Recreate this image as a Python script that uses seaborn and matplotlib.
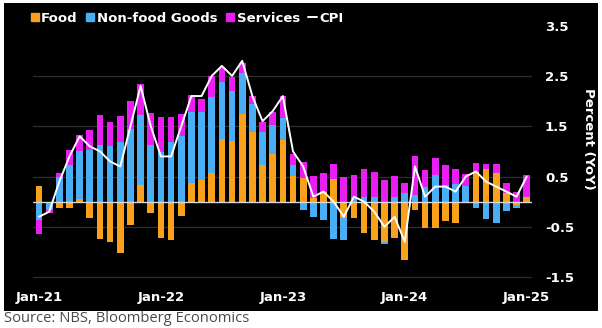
import numpy as np
import pandas as pd
import matplotlib
matplotlib.use("Agg")
import matplotlib.pyplot as plt
import seaborn as sns
from matplotlib.lines import Line2D
from matplotlib.patches import Rectangle

# Contributions to China CPI (percentage points, YoY), Jan-21 .. Jan-25
months = pd.date_range("2021-01-01", "2025-01-01", freq="MS")

food = [0.32, -0.03, -0.13, -0.13, 0.05, -0.33, -0.74, -0.80, -1.03, -0.46, 0.33, -0.23,
        -0.73, -0.76, -0.28, 0.38, 0.44, 0.58, 1.25, 1.21, 1.74, 1.38, 0.72, 0.95,
        1.23, 0.52, 0.48, 0.08, 0.20, 0.46, -0.32, -0.33, -0.62, -0.77, -0.80, -0.73,
        -1.15, -0.17, -0.53, -0.53, -0.38, -0.42, 0.00, 0.60, 0.65, 0.58, 0.17, -0.07,
        0.09]
nonfood = [-0.36, -0.14, 0.50, 0.73, 0.95, 1.03, 1.13, 1.10, 1.19, 1.44, 1.39, 1.13,
           0.99, 1.19, 1.30, 1.41, 1.34, 1.51, 1.13, 0.99, 0.81, 0.57, 0.66, 0.58,
           0.43, 0.21, -0.17, -0.30, -0.36, -0.74, -0.44, 0.10, 0.10, 0.10, -0.05, 0.10,
           0.17, 0.13, 0.30, 0.53, 0.33, 0.35, 0.31, -0.13, -0.34, -0.43, -0.19, -0.05,
           0.00]
services = [-0.28, -0.05, 0.08, 0.30, 0.32, 0.40, 0.60, 0.48, 0.51, 0.56, 0.62, 0.63,
            0.70, 0.50, 0.45, 0.33, 0.26, 0.41, 0.30, 0.28, 0.20, 0.15, 0.20, 0.25,
            0.44, 0.22, 0.31, 0.44, 0.38, 0.28, 0.50, 0.44, 0.54, 0.50, 0.43, 0.41,
            0.21, 0.77, 0.33, 0.33, 0.40, 0.30, 0.24, 0.17, 0.09, 0.17, 0.21, 0.20,
            0.44]
cpi = [-0.3, -0.2, 0.4, 0.9, 1.3, 1.1, 1.0, 0.8, 0.7, 1.5, 2.3, 1.5,
       0.9, 0.9, 1.5, 2.1, 2.1, 2.5, 2.7, 2.5, 2.8, 2.1, 1.6, 1.8,
       2.1, 1.0, 0.7, 0.1, 0.2, 0.0, -0.3, 0.1, 0.0, -0.2, -0.5, -0.3,
       -0.8, 0.7, 0.1, 0.3, 0.3, 0.2, 0.5, 0.6, 0.4, 0.3, 0.2, 0.1,
       0.5]

series_names = ["Food", "Non-food Goods", "Services"]
series_colors = ["#F9A11B", "#4AAEF5", "#E81EF2"]
tick_months = ["2021-01-01", "2022-01-01", "2023-01-01", "2024-01-01", "2025-01-01"]
tick_labels = ["Jan-21", "Jan-22", "Jan-23", "Jan-24", "Jan-25"]
y_ticks = [-1.5, -0.5, 0.5, 1.5, 2.5, 3.5]
grid_levels = [-1.5, -0.5, 0.5, 1.5, 2.5]

df = pd.DataFrame({"idx": np.arange(len(months)), "Food": food,
                   "Non-food Goods": nonfood, "Services": services, "CPI": cpi})

sns.set_theme(style="dark", rc={"axes.grid": False, "axes.facecolor": "black",
                                "figure.facecolor": "white"})
plt.rcParams["font.family"] = ["DejaVu Sans"]

fig = plt.figure(figsize=(6.02, 3.28), dpi=100)
W, H = 602, 328
fig.add_artist(Rectangle((4 / W, 1 - 311 / H), 594 / W, 308 / H,
                         transform=fig.transFigure, facecolor="black",
                         edgecolor="none", zorder=-1))
ax = fig.add_axes([33 / W, 1 - 287.2 / H, 499 / W, 266.6 / H])
ax.set_facecolor("black")

# Diverging stack: positives build up from zero, negatives build down
pos_base = np.zeros(len(df))
neg_base = np.zeros(len(df))
for name, color in zip(series_names, series_colors):
    vals = df[name].to_numpy()
    bottom = np.where(vals >= 0, pos_base, neg_base)
    sns.barplot(data=df, x="idx", y=name, native_scale=True, width=0.66,
                color=color, saturation=1, errorbar=None, bottom=bottom,
                linewidth=0, edgecolor="none", ax=ax, zorder=2)
    pos_base = pos_base + np.where(vals >= 0, vals, 0)
    neg_base = neg_base + np.where(vals < 0, vals, 0)

for lvl in grid_levels:
    ax.axhline(lvl, color="#2e2e2e", lw=0.9, zorder=1)
ax.axhline(0, color="#d8d8d8", lw=1.0, zorder=3)

sns.lineplot(data=df, x="idx", y="CPI", color="white", lw=1.4, ax=ax, zorder=4)

ax.set_xlim(-0.59, 48.52)
ax.set_ylim(-1.7, 3.6)
tick_pos = [int(np.where(months == pd.Timestamp(t))[0][0]) for t in tick_months]
ax.set_xticks(tick_pos)
ax.set_xticklabels(tick_labels)
ax.yaxis.tick_right()
ax.set_yticks(y_ticks)
ax.set_yticklabels([f"{v:.1f}" for v in y_ticks])
ax.tick_params(axis="x", length=0, pad=2.5, colors="white", labelsize=9.5)
ax.tick_params(axis="y", length=0, pad=9.4, colors="white", labelsize=9.5)
for lab in ax.get_xticklabels() + ax.get_yticklabels():
    lab.set_fontweight("bold")
ax.set_xlabel("")
ax.set_ylabel("")
for sp in ax.spines.values():
    sp.set_visible(False)

fig.text(588 / W, 1 - 139 / H, "Percent (YoY)", rotation=270, ha="center",
         va="center", color="white", fontsize=9.5, fontweight="bold")

handles = [Line2D([], [], marker="s", linestyle="none", markersize=6,
                  markerfacecolor=c, markeredgecolor=c) for c in series_colors]
handles.append(Line2D([], [], color="white", lw=1.4))
leg = fig.legend(handles, series_names + ["CPI"], loc="upper left",
                 bbox_to_anchor=(30 / W, 1 - 12 / H), ncol=4, frameon=False,
                 handlelength=0.7, handletextpad=0.15, columnspacing=0.6,
                 borderaxespad=0, borderpad=0,
                 prop={"weight": "bold", "size": 9.5})
for t in leg.get_texts():
    t.set_color("white")

fig.text(4 / W, 1 - 318 / H, "Source: NBS, Bloomberg Economics", ha="left",
         va="center", color="#4a4a4a", fontsize=10.6, family=["Open Sans", "DejaVu Sans"])

fig.savefig("out.png", dpi=100)
